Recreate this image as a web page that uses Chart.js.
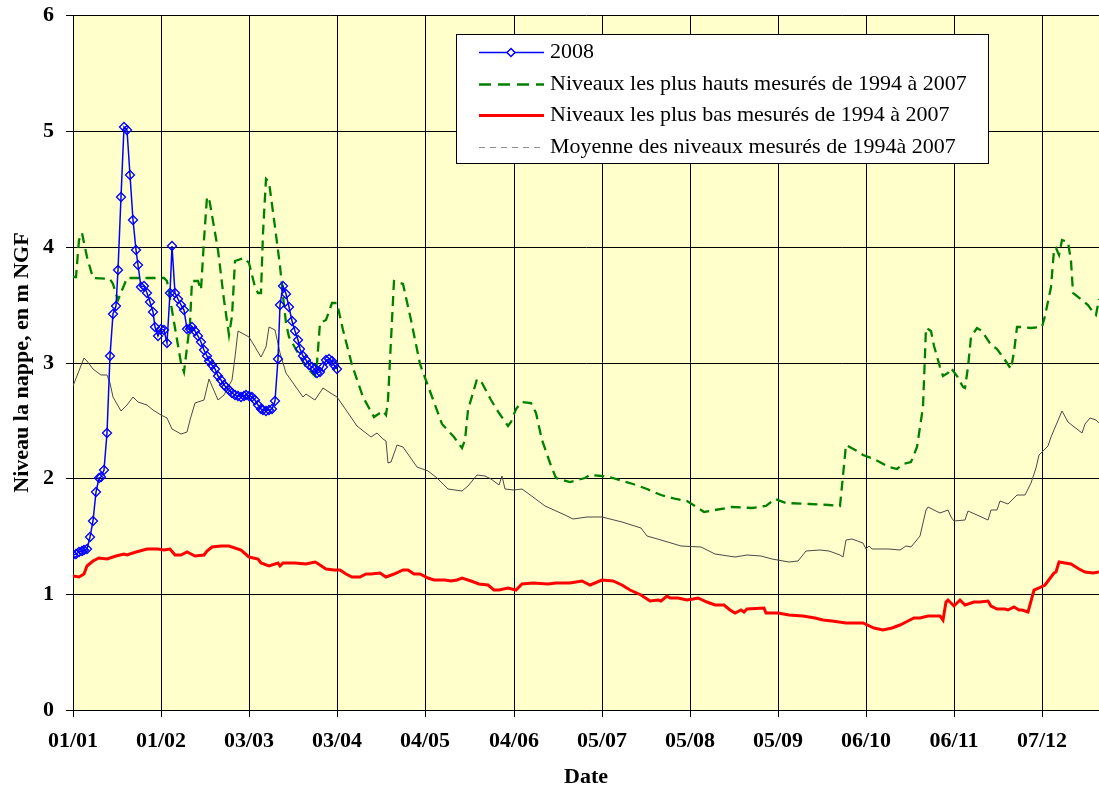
<!DOCTYPE html>
<html>
<head>
<meta charset="utf-8">
<script src="https://cdn.jsdelivr.net/npm/chart.js@4.4.0/dist/chart.umd.min.js"></script>
<style>
  body { margin: 0; background: #fff; }
  canvas { display: block; }
</style>
</head>
<body>
<canvas id="nappe-chart" width="1099" height="789"></canvas>
<script>
// x = day since 01/01/2008, y = level in m NGF

const tickDays = [0, 31, 62, 93, 124, 155, 186, 217, 248, 279, 310, 341];
const tickLabels = ['01/01', '01/02', '03/03', '03/04', '04/05', '04/06', '05/07', '05/08', '05/09', '06/10', '06/11', '07/12'];

const seriesNames = [
  '2008',
  'Niveaux les plus hauts mesurés de 1994 à 2007',
  'Niveaux les plus bas mesurés de 1994 à 2007',
  'Moyenne des niveaux mesurés de 1994à 2007'
];

// daily values, 01/01 -> 03/04
const level2008 = [
  1.34, 1.35, 1.36, 1.37, 1.38, 1.39, 1.49, 1.63, 1.88, 2.00,
  2.01, 2.07, 2.39, 3.06, 3.42, 3.49, 3.80, 4.43, 5.03, 5.01,
  4.62, 4.23, 3.97, 3.84, 3.65, 3.66, 3.60, 3.52, 3.44, 3.31,
  3.23, 3.29, 3.28, 3.17, 3.60, 4.01, 3.60, 3.55, 3.50, 3.45,
  3.29, 3.29, 3.31, 3.27, 3.23, 3.18, 3.11, 3.06, 3.01, 2.98,
  2.94, 2.88, 2.85, 2.81, 2.79, 2.76, 2.74, 2.72, 2.71, 2.70,
  2.71, 2.72, 2.71, 2.70, 2.68, 2.63, 2.60, 2.59, 2.58, 2.59,
  2.60, 2.67, 3.03, 3.50, 3.66, 3.59, 3.48, 3.36, 3.27, 3.19,
  3.12, 3.06, 3.02, 2.98, 2.96, 2.94, 2.91, 2.92, 2.96, 3.02,
  3.03, 3.01, 2.98, 2.94
];

// [day, level]
const levelHigh = [
  [0,3.74],[1,3.74],[2,4.06],[3,4.12],[5,3.91],[7,3.73],[13,3.72],[14,3.68],[16,3.54],[19,3.73],
  [32,3.73],[33,3.70],[38,3.00],[39,2.92],[41,3.34],[42,3.70],[44,3.70],[45,3.63],[46,4.06],[47,4.43],
  [48,4.42],[51,3.97],[53,3.54],[55,3.24],[56,3.40],[57,3.88],[60,3.90],[62,3.86],[64,3.65],[65,3.60],
  [66,3.60],[67,4.12],[68,4.58],[69,4.56],[71,4.17],[73,3.83],[74,3.57],[75,3.34],[76,3.22],[79,3.08],
  [82,2.96],[85,2.88],[86,3.00],[87,3.34],[89,3.37],[91,3.51],[93,3.51],[95,3.28],[98,2.98],[102,2.70],
  [106,2.53],[109,2.58],[110,2.55],[111,2.68],[112,3.19],[113,3.70],[116,3.68],[119,3.37],[122,2.99],[126,2.73],
  [130,2.47],[134,2.36],[137,2.26],[138,2.33],[139,2.59],[142,2.86],[144,2.82],[147,2.68],[150,2.56],[153,2.45],
  [154,2.49],[156,2.60],[158,2.66],[161,2.65],[163,2.56],[165,2.33],[168,2.13],[170,2.00],[175,1.97],[180,2.00],
  [182,2.03],[186,2.02],[190,2.00],[193,1.98],[197,1.95],[202,1.91],[207,1.86],[212,1.82],[216,1.80],[219,1.76],
  [222,1.71],[226,1.73],[232,1.75],[239,1.74],[244,1.76],[247,1.82],[251,1.79],[259,1.78],[266,1.77],[270,1.76],
  [272,2.29],[276,2.24],[278,2.20],[282,2.17],[287,2.10],[290,2.08],[292,2.12],[295,2.14],[297,2.27],[299,2.62],
  [300,3.30],[302,3.27],[303,3.14],[305,2.96],[306,2.88],[308,2.91],[309,2.95],[311,2.88],[313,2.79],[314,2.78],
  [315,2.96],[316,3.22],[318,3.30],[320,3.27],[323,3.15],[325,3.12],[328,3.02],[330,2.94],[331,3.09],[332,3.31],
  [334,3.31],[337,3.30],[341,3.31],[342,3.40],[344,3.65],[345,3.97],[346,3.99],[347,3.93],[348,4.06],[350,4.04],
  [351,3.88],[352,3.60],[355,3.54],[357,3.50],[359,3.44],[360,3.41],[361,3.55]
];

const levelLow = [
  [0,1.16],[2,1.15],[4,1.17],[5,1.24],[7,1.29],[9,1.31],[12,1.30],[15,1.33],[18,1.35],[19,1.34],
  [22,1.36],[26,1.39],[30,1.39],[32,1.38],[34,1.39],[36,1.34],[38,1.34],[40,1.36],[43,1.33],[46,1.34],
  [47,1.37],[49,1.41],[52,1.42],[55,1.42],[59,1.38],[62,1.32],[65,1.30],[66,1.27],[69,1.24],[72,1.27],
  [73,1.24],[74,1.27],[78,1.27],[82,1.26],[85,1.28],[86,1.27],[89,1.22],[92,1.21],[94,1.21],[96,1.17],
  [98,1.15],[101,1.15],[103,1.17],[105,1.17],[108,1.18],[110,1.15],[113,1.17],[116,1.21],[118,1.21],[120,1.17],
  [122,1.17],[125,1.14],[127,1.12],[131,1.12],[133,1.11],[135,1.12],[137,1.14],[140,1.11],[143,1.09],[146,1.08],
  [148,1.04],[150,1.04],[153,1.05],[156,1.04],[158,1.09],[162,1.10],[167,1.09],[170,1.10],[175,1.10],[179,1.11],
  [182,1.08],[186,1.12],[190,1.11],[193,1.08],[196,1.04],[200,0.99],[203,0.94],[206,0.95],[207,0.94],[209,0.98],
  [210,0.97],[213,0.97],[216,0.95],[218,0.96],[220,0.97],[223,0.93],[226,0.91],[229,0.91],[231,0.86],[233,0.84],
  [235,0.86],[236,0.85],[237,0.87],[243,0.88],[244,0.84],[248,0.84],[252,0.82],[257,0.81],[261,0.79],[264,0.78],
  [267,0.77],[272,0.75],[278,0.75],[282,0.71],[285,0.69],[288,0.71],[291,0.73],[293,0.76],[296,0.79],[298,0.79],
  [301,0.81],[305,0.81],[306,0.78],[307,0.93],[308,0.95],[310,0.90],[312,0.95],[314,0.91],[317,0.93],[319,0.93],
  [322,0.94],[323,0.90],[325,0.87],[328,0.87],[329,0.86],[331,0.89],[333,0.86],[334,0.86],[336,0.85],[338,1.04],
  [340,1.05],[342,1.08],[343,1.11],[345,1.18],[346,1.19],[347,1.28],[349,1.27],[351,1.26],[354,1.22],[356,1.19],
  [359,1.18],[361,1.19]
];

const levelMean = [
  [0,2.80],[4,3.04],[5,3.01],[7,2.94],[10,2.89],[12,2.89],[13,2.82],[14,2.70],[17,2.58],[19,2.63],
  [21,2.70],[23,2.66],[26,2.63],[28,2.59],[31,2.55],[33,2.52],[35,2.43],[38,2.38],[40,2.40],[41,2.50],
  [43,2.65],[44,2.66],[46,2.68],[48,2.86],[51,2.68],[53,2.72],[56,2.85],[57,3.05],[58,3.27],[62,3.22],
  [66,3.05],[68,3.13],[69,3.31],[71,3.28],[73,3.08],[75,2.91],[79,2.76],[81,2.70],[82,2.73],[85,2.68],
  [88,2.78],[91,2.73],[93,2.70],[96,2.59],[100,2.45],[105,2.36],[107,2.39],[109,2.34],[110,2.32],[111,2.13],
  [112,2.14],[114,2.29],[116,2.27],[121,2.10],[125,2.06],[128,2.00],[132,1.91],[137,1.89],[139,1.93],[142,2.03],
  [145,2.02],[147,1.99],[150,1.94],[151,2.02],[152,1.91],[155,1.90],[158,1.91],[162,1.84],[166,1.76],[173,1.68],
  [176,1.65],[181,1.67],[186,1.67],[193,1.62],[200,1.57],[202,1.50],[207,1.47],[214,1.42],[221,1.41],[226,1.35],
  [233,1.32],[237,1.34],[242,1.33],[246,1.30],[252,1.28],[255,1.29],[258,1.37],[263,1.38],[266,1.37],[270,1.34],
  [271,1.32],[272,1.47],[274,1.48],[278,1.44],[279,1.39],[280,1.42],[281,1.39],[287,1.39],[291,1.38],[293,1.42],
  [295,1.41],[298,1.50],[300,1.73],[301,1.75],[305,1.70],[308,1.73],[309,1.67],[310,1.63],[314,1.64],[315,1.72],
  [318,1.68],[322,1.64],[323,1.73],[325,1.73],[326,1.80],[329,1.78],[332,1.86],[335,1.86],[337,1.96],[339,2.09],
  [340,2.20],[343,2.28],[344,2.36],[348,2.58],[350,2.49],[352,2.45],[355,2.39],[356,2.47],[358,2.52],[360,2.50],
  [361,2.48]
];

const toPoints = arr => arr.map(p => ({ x: p[0], y: p[1] }));

Chart.defaults.font.family = "'Liberation Serif', 'Times New Roman', serif";
Chart.defaults.color = '#000';

// yellow plot background
const plotBg = {
  id: 'plotBg',
  beforeDraw(chart) {
    const { ctx, chartArea: a } = chart;
    ctx.save();
    ctx.fillStyle = '#ffffcc';
    ctx.fillRect(a.left, a.top, a.right - a.left, a.bottom - a.top);
    ctx.restore();
  }
};

// boxed legend like the excel one
const boxLegend = {
  id: 'boxLegend',
  afterDraw(chart) {
    const ctx = chart.ctx;
    const bx = 456, by = 34, bw = 532, bh = 129;
    ctx.save();
    ctx.fillStyle = '#fff';
    ctx.fillRect(bx, by, bw, bh);
    ctx.strokeStyle = '#000';
    ctx.lineWidth = 1;
    ctx.strokeRect(bx + 0.5, by + 0.5, bw, bh);

    ctx.font = "22px 'Liberation Serif'";
    ctx.textBaseline = 'middle';
    chart.data.datasets.forEach((ds, i) => {
      const y = Math.round(by + 18 + i * 31.7) + 0.5;
      ctx.save();
      ctx.strokeStyle = ds.borderColor;
      ctx.lineWidth = ds.borderWidth;
      ctx.setLineDash(ds.legendDash || []);
      if (i === 3) { ctx.strokeStyle = '#909090'; ctx.setLineDash([6, 5]); }
      ctx.beginPath();
      ctx.moveTo(479, y);
      ctx.lineTo(544, y);
      ctx.stroke();
      if (i === 0) {
        ctx.setLineDash([]);
        ctx.fillStyle = '#fff';
        ctx.beginPath();
        ctx.moveTo(511 - 4, y); ctx.lineTo(511, y - 4); ctx.lineTo(511 + 4, y); ctx.lineTo(511, y + 4);
        ctx.closePath();
        ctx.fill(); ctx.stroke();
      }
      ctx.restore();
      ctx.fillStyle = '#000';
      ctx.fillText(seriesNames[i], 550, y);
    });
    ctx.restore();
  }
};

const data = {
  datasets: [
    {
      label: seriesNames[0],
      data: level2008.map((v, i) => ({ x: i, y: v })),
      borderColor: '#0000ff',
      borderWidth: 1.5,
      pointStyle: 'rectRot',
      pointRadius: 4.5,
      pointBorderWidth: 1.3,
      pointBorderColor: '#0000ff',
      pointBackgroundColor: 'rgba(0,0,0,0)'
    },
    {
      label: seriesNames[1],
      data: toPoints(levelHigh),
      borderColor: '#008000',
      borderWidth: 2.3,
      borderDash: [10, 6],
      legendDash: [12, 7],
      pointRadius: 0
    },
    {
      label: seriesNames[2],
      data: toPoints(levelLow),
      borderColor: '#ff0000',
      borderWidth: 3,
      pointRadius: 0
    },
    {
      label: seriesNames[3],
      data: toPoints(levelMean),
      borderColor: '#4a4a4a',
      borderWidth: 1,
      pointRadius: 0
    }
  ]
};

const config = {
  type: 'line',
  data: data,
  options: {
    responsive: false,
    animation: false,
    devicePixelRatio: 1,
    layout: { autoPadding: false, padding: { top: 15, right: 0, bottom: 0, left: 0 } },
    elements: { line: { tension: 0 } },
    plugins: {
      legend: { display: false },
      tooltip: { enabled: false }
    },
    scales: {
      x: {
        type: 'linear',
        min: 0,
        max: 361,
        alignToPixels: true,
        afterBuildTicks: axis => { axis.ticks = tickDays.map(v => ({ value: v })); },
        afterFit: scale => { scale.height = 79; },
        ticks: {
          autoSkip: false,
          maxRotation: 0,
          padding: 11,
          font: { size: 22, weight: 'bold' },
          callback: value => tickLabels[tickDays.indexOf(value)]
        },
        grid: { color: '#000', lineWidth: 1, tickLength: 7 },
        border: { color: '#000', width: 1 },
        title: {
          display: true,
          text: 'Date',
          font: { size: 22, weight: 'bold', lineHeight: 1 },
          padding: { top: 0, bottom: 1 }
        }
      },
      y: {
        min: 0,
        max: 6,
        alignToPixels: true,
        afterFit: scale => { scale.width = 73; scale.paddingTop = 0; scale.paddingBottom = 0; },
        ticks: {
          stepSize: 1,
          padding: 12,
          font: { size: 22, weight: 'bold' }
        },
        grid: { color: '#000', lineWidth: 1, tickLength: 7 },
        border: { color: '#000', width: 1 },
        title: {
          display: true,
          text: 'Niveau la nappe, en m NGF',
          font: { size: 22, weight: 'bold', lineHeight: 1 },
          padding: { top: 11, bottom: 0 }
        }
      }
    }
  },
  plugins: [plotBg, boxLegend]
};

const nappeChart = new Chart(document.getElementById('nappe-chart').getContext('2d'), config);
</script>
</body>
</html>
